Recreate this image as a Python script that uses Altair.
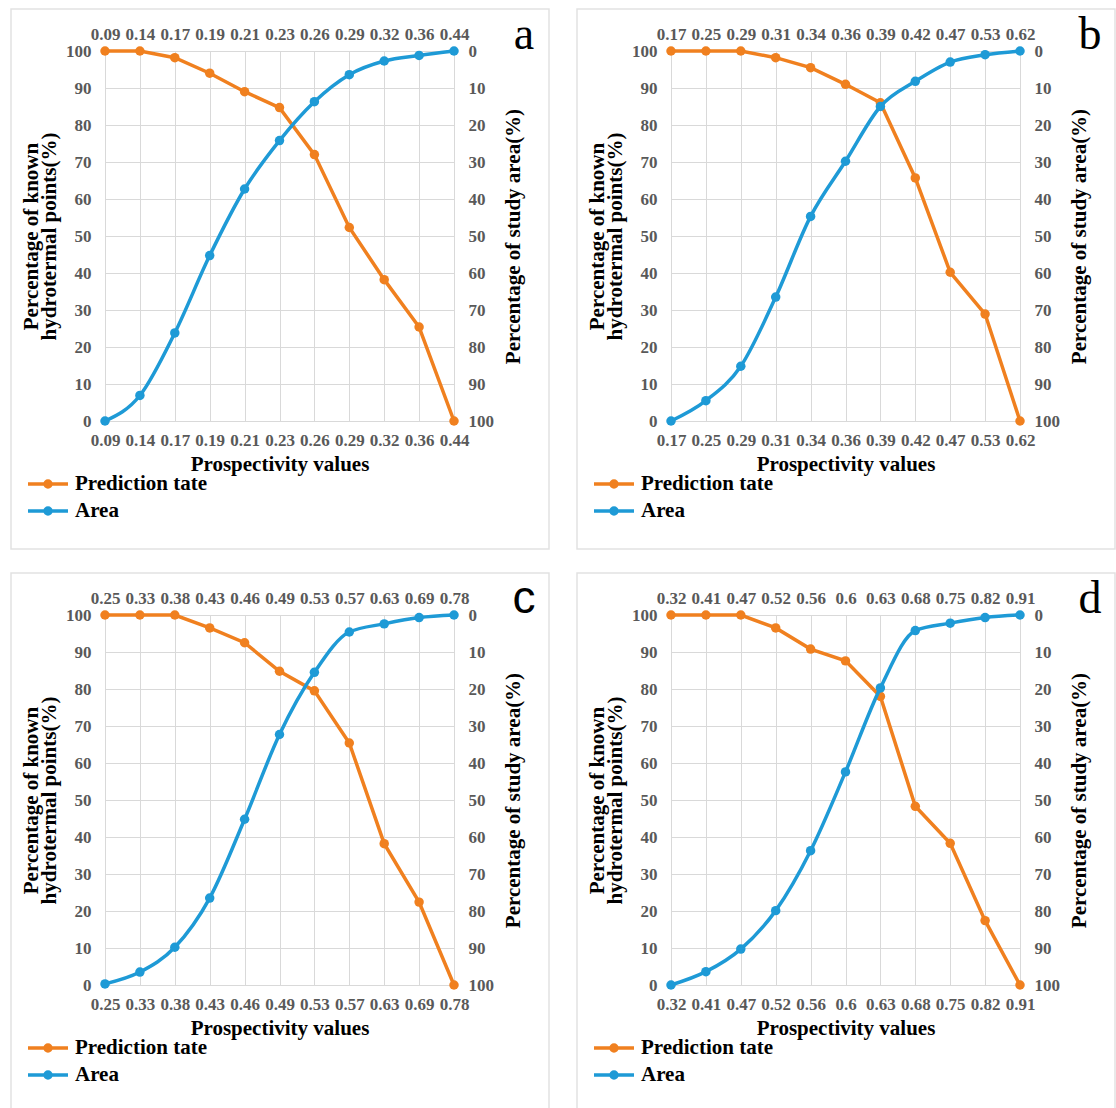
import altair as alt
import pandas as pd

SERIES = ["Prediction tate", "Area"]
COLORS = ["#F0801F", "#1E9AD6"]

# panel a
a_x = ["0.09", "0.14", "0.17", "0.19", "0.21", "0.23", "0.26", "0.29", "0.32", "0.36", "0.44"]
a_pred = [100, 100, 98.2, 94, 89, 84.7, 72, 52.3, 38.2, 25.4, 0]
a_area = [100, 93.1, 76.2, 55.3, 37.3, 24.2, 13.7, 6.4, 2.7, 1.2, 0]

# panel b
b_x = ["0.17", "0.25", "0.29", "0.31", "0.34", "0.36", "0.39", "0.42", "0.47", "0.53", "0.62"]
b_pred = [100, 100, 100, 98.2, 95.5, 91, 86, 65.7, 40.2, 28.9, 0]
b_area = [100, 94.5, 85.2, 66.5, 44.7, 29.8, 15, 8.2, 3, 1, 0]

# panel c
c_x = ["0.25", "0.33", "0.38", "0.43", "0.46", "0.49", "0.53", "0.57", "0.63", "0.69", "0.78"]
c_pred = [100, 100, 100, 96.5, 92.5, 84.8, 79.5, 65.4, 38.2, 22.4, 0]
c_area = [99.7, 96.5, 89.8, 76.5, 55.2, 32.3, 15.5, 4.6, 2.4, 0.7, 0]

# panel d
d_x = ["0.32", "0.41", "0.47", "0.52", "0.56", "0.6", "0.63", "0.68", "0.75", "0.82", "0.91"]
d_pred = [100, 100, 100, 96.5, 90.8, 87.6, 78, 48.3, 38.3, 17.4, 0]
d_area = [100, 96.4, 90.3, 79.9, 63.7, 42.4, 19.7, 4.2, 2.2, 0.7, 0]

Y_TICKS = list(range(0, 101, 10))
LEFT_TITLE = ["Percentage of known", "hydrotermal points(%)"]
RIGHT_TITLE = "Percentage of study area(%)"
X_TITLE = "Prospectivity values"

W, H = 349, 370
SERIF = "Liberation Serif"
SYMBOL = "M-2,0L2,0M-0.3,0A0.3,0.3,0,1,0,0.3,0A0.3,0.3,0,1,0,-0.3,0Z"


def panel(xs, pred, area, letter, sans=False):
    df_p = pd.DataFrame({"x": xs, "value": pred, "series": SERIES[0]})
    df_a = pd.DataFrame({"x": xs, "value": area, "series": SERIES[1]})
    color = alt.Color(
        "series:N",
        scale=alt.Scale(domain=SERIES, range=COLORS),
        legend=alt.Legend(
            title=None, orient="none", legendX=-69, legendY=421,
            direction="vertical", symbolType=SYMBOL, symbolSize=400,
            symbolStrokeWidth=3.5, labelFont=SERIF, labelFontSize=21,
            labelFontWeight="bold", labelColor="black", labelOffset=15,
            rowPadding=5,
        ),
    )
    pt = alt.OverlayMarkDef(filled=True, size=90, opacity=1)
    orange = alt.Chart(df_p).mark_line(strokeWidth=3.5, point=pt).encode(
        x=alt.X("x:N", sort=xs, scale=alt.Scale(padding=0),
                axis=alt.Axis(orient="bottom", title=X_TITLE, labelAngle=0,
                              grid=True, labelPadding=11, titlePadding=5)),
        y=alt.Y("value:Q", scale=alt.Scale(domain=[0, 100], nice=False),
                axis=alt.Axis(orient="left", values=Y_TICKS, grid=True,
                              title=LEFT_TITLE, labelPadding=14,
                              titlePadding=6, titleLineHeight=18)),
        color=color,
    )
    blue = alt.Chart(df_a).mark_line(strokeWidth=3.5, interpolate="monotone", point=pt).encode(
        x=alt.X("x:N", sort=xs, scale=alt.Scale(padding=0),
                axis=alt.Axis(orient="top", title=None, labelAngle=0,
                              grid=False, labelPadding=8)),
        y=alt.Y("value:Q", scale=alt.Scale(domain=[0, 100], reverse=True, nice=False),
                axis=alt.Axis(orient="right", values=Y_TICKS, grid=False,
                              title=RIGHT_TITLE, titleAngle=270, titleBaseline="top",
                              labelPadding=14, titlePadding=9)),
        color=color,
    )
    frame = alt.Chart(pd.DataFrame({"k": [0]})).mark_rect(
        fillOpacity=0, stroke="#e2e2e2", strokeWidth=1.5
    ).encode(x=alt.value(-94), x2=alt.value(W + 95), y=alt.value(-42), y2=alt.value(H + 128))
    lab = alt.Chart(pd.DataFrame({"t": [letter]})).mark_text(
        font="Liberation Sans" if sans else SERIF, fontSize=46,
        align="center", baseline="alphabetic", color="black",
    ).encode(x=alt.value(W + 70), y=alt.value(-2), text="t:N")
    return alt.layer(frame, orange, blue, lab).resolve_scale(
        x="independent", y="independent"
    ).properties(width=W, height=H)


pa = panel(a_x, a_pred, a_area, "a")
pb = panel(b_x, b_pred, b_area, "b")
pc = panel(c_x, c_pred, c_area, "c", sans=True)
pd_ = panel(d_x, d_pred, d_area, "d")

row1 = alt.hconcat(pa, pb, spacing=26).resolve_scale(color="independent").resolve_legend(color="independent")
row2 = alt.hconcat(pc, pd_, spacing=26).resolve_scale(color="independent").resolve_legend(color="independent")

chart = alt.vconcat(row1, row2, spacing=22).resolve_scale(
    color="independent"
).resolve_legend(color="independent").properties(
    padding={"left": 10, "top": 8, "right": 0, "bottom": 0},
    background="white",
).configure_view(strokeWidth=0).configure_axis(
    labelFont=SERIF, labelFontSize=17, labelFontWeight="bold", labelColor="#595959",
    titleFont=SERIF, titleFontSize=21, titleFontWeight="bold", titleColor="black",
    domain=False, ticks=False, gridColor="#d9d9d9", gridWidth=1,
)

chart.save("out.html", embed_options={"renderer": "svg", "actions": False})
